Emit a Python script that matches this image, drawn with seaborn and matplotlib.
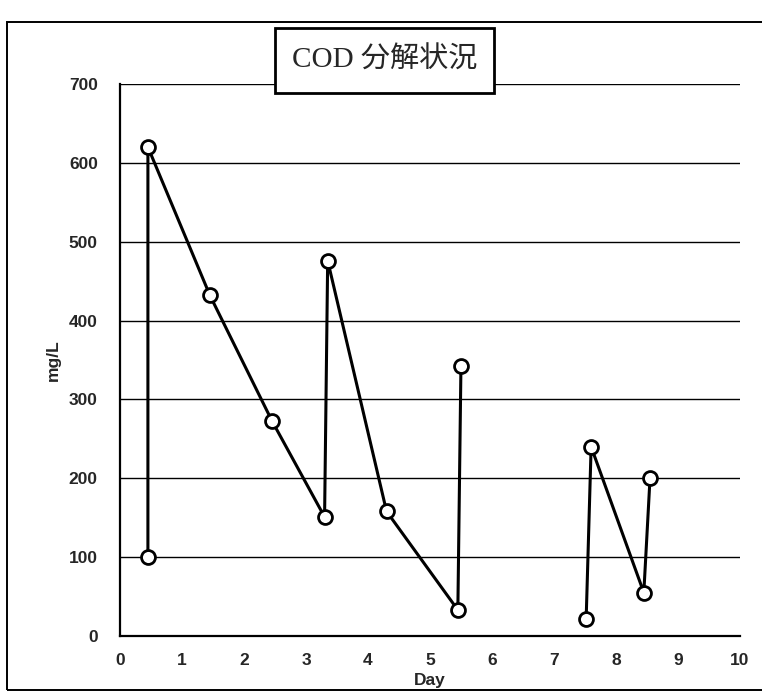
import pandas as pd
import seaborn as sns
import matplotlib.pyplot as plt
from matplotlib.patches import Rectangle

# COD readings (two runs separated by a gap between day 5.5 and 7.5)
day = [0.45, 0.45, 1.45, 2.45, 3.30, 3.35, 4.30, 5.45, 5.50, 7.52, 7.60, 8.45, 8.55]
cod = [100, 620, 432, 273, 151, 476, 158, 33, 343, 22, 240, 55, 200]
run = [1, 1, 1, 1, 1, 1, 1, 1, 1, 2, 2, 2, 2]

yticks = [0, 100, 200, 300, 400, 500, 600, 700]
xticks = [0, 1, 2, 3, 4, 5, 6, 7, 8, 9, 10]
title = "COD 分解状況"

df = pd.DataFrame({"Day": day, "mg/L": cod, "run": run})

sns.set_style("white")
plt.rcParams['font.family'] = ['Liberation Sans', 'Noto Sans CJK JP']

fig = plt.figure(figsize=(7.62, 6.97), dpi=100)
ax = fig.add_axes([0.1575, 0.0875, 0.8135, 0.792])

sns.lineplot(data=df, x="Day", y="mg/L", units="run", estimator=None, sort=False,
             color="black", linewidth=2.2, marker="o", markersize=10,
             markerfacecolor="white", markeredgecolor="black", markeredgewidth=2,
             ax=ax, zorder=3)

ax.set_xlim(0, 10)
ax.set_ylim(0, 700)
ax.set_xticks(xticks)
ax.set_yticks(yticks)
for y in yticks[1:]:
    ax.axhline(y, color="black", lw=1.0, zorder=1)

for s in ["top", "right"]:
    ax.spines[s].set_visible(False)
for s in ["left", "bottom"]:
    ax.spines[s].set_color("black")
    ax.spines[s].set_linewidth(1.6)

ax.tick_params(axis="x", direction="in", length=5, width=1.2, pad=12, labelsize=12.5)
ax.tick_params(axis="y", direction="out", length=4, width=1.0, pad=12, labelsize=12.5)
for lab in ax.get_xticklabels() + ax.get_yticklabels():
    lab.set_fontweight("bold")

ax.set_xlabel("Day", fontsize=12.5, fontweight="bold", labelpad=4)
ax.set_ylabel("mg/L", fontsize=12.5, fontweight="bold", labelpad=6)

# outer frame of the scanned figure
fig.patches.append(Rectangle((0.009, 0.01), 1.2, 0.958, transform=fig.transFigure,
                             fill=False, edgecolor="black", lw=1.4))
# boxed title
fig.patches.append(Rectangle((0.361, 0.8666), 0.287, 0.0933, transform=fig.transFigure,
                             facecolor="white", edgecolor="black", lw=2, zorder=5))
fig.text(0.5045, 0.913, title, ha="center", va="center", fontsize=21, zorder=6,
         family=['Liberation Serif', 'Noto Sans CJK JP'])

fig.savefig("out.png", dpi=100)
